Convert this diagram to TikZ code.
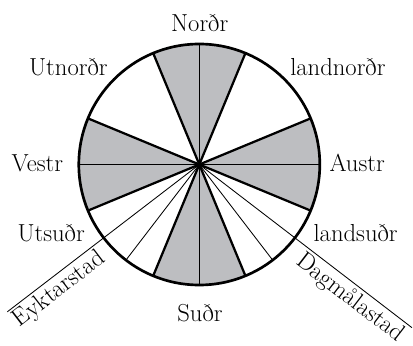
\documentclass[tikz,border=0pt]{standalone}
\usepackage{tikz}
\usetikzlibrary{calc}
\definecolor{wgray}{HTML}{BDBEC1}
\tikzset{
  wlabel/.style={font=\fontsize{17.5}{20}\selectfont, inner sep=0pt},
  eyktlabel/.style={wlabel, inner sep=2pt, sloped, below},
  rim/.style={line width=1.9pt},
  spoke/.style={line width=1.6pt},
  axisline/.style={line width=0.9pt},
  hair/.style={line width=0.6pt},
  sector/.style={fill=wgray},
}

\begin{document}
\begin{tikzpicture}[x=0.025cm, y=0.025cm]
  \useasboundingbox (-199.3,-181.5) rectangle (213.7,164.5);
  \def\rad{120.5}
  \coordinate (c) at (0,0);

  % grey quarters
  \foreach \a in {0,90,180,270}
    \fill[sector] (c) -- (\a-22.5:\rad)
      arc[start angle=\a-22.5, end angle=\a+22.5, radius=\rad] -- cycle;

  % spokes
  \foreach \a in {22.5,67.5,...,337.5}
    \draw[spoke] (c) -- (\a:\rad);
  \draw[axisline] (90:\rad) -- (270:\rad);
  \draw[axisline] (0:\rad) -- (180:\rad);
  \draw[hair] (c) -- (232.5:\rad);
  \draw[hair] (c) -- (307.5:\rad);

  % eykt lines
  \coordinate (eykt) at (217.5:242);
  \coordinate (dagm) at (322.5:268);
  \draw[hair] (c) -- (eykt) node[eyktlabel, pos=0.773] (eyktlbl) {Eyktarstad};
  \draw[hair] (c) -- (dagm) node[eyktlabel, pos=0.75] (dagmlbl) {Dagmålastad};

  \draw[rim] (c) circle[radius=\rad];

  \node[wlabel, anchor=base] (nordr) at (0.4,132.8) {Norðr};
  \node[wlabel, anchor=base west] (landnordr) at (90.7,88.5) {landnorðr};
  \node[wlabel, anchor=base east] (utnordr) at (-91.5,88.5) {Utnorðr};
  \node[wlabel, anchor=base west] (austr) at (130,-7.2) {Austr};
  \node[wlabel, anchor=base east] (vestr) at (-136,-7.2) {Vestr};
  \node[wlabel, anchor=base west] (landsudr) at (114,-77.2) {landsuðr};
  \node[wlabel, anchor=base east] (utsudr) at (-114.3,-77.2) {Utsuðr};
  \node[wlabel, anchor=base] (sudr) at (0.7,-157.2) {Suðr};
\end{tikzpicture}
\end{document}
